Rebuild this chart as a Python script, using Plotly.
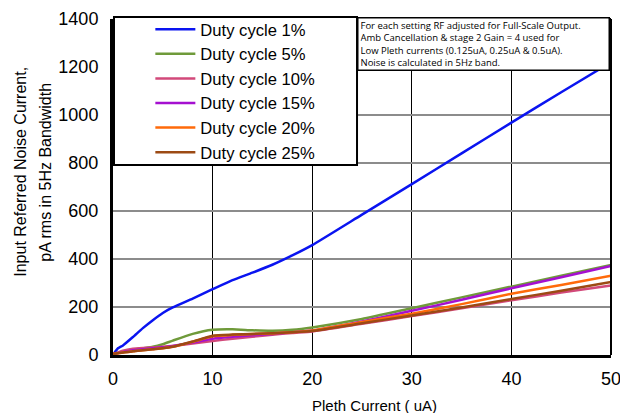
"""Input referred noise vs pleth current, per duty cycle."""

import plotly.graph_objects as go

pleth_ua = [0, 0.5, 1, 2, 3, 4, 5, 6, 8, 10, 12, 14, 16, 18, 20, 25, 30, 35, 40, 45, 50]

duty_1 = [0, 28, 40, 75, 112, 145, 175, 198, 235, 274, 312, 343, 376, 415, 458, 585, 712, 840, 968, 1095, 1220]
duty_5 = [5, 10, 14, 22, 28, 34, 45, 60, 88, 105, 107, 103, 101, 105, 115, 150, 195, 240, 285, 330, 375]
duty_10 = [5, 10, 18, 26, 29, 31, 34, 38, 48, 58, 68, 76, 84, 92, 98, 130, 162, 195, 228, 260, 290]
duty_15 = [5, 8, 12, 20, 24, 28, 32, 38, 52, 68, 76, 82, 88, 95, 102, 140, 184, 230, 278, 324, 371]
duty_20 = [5, 7, 10, 16, 20, 24, 28, 34, 55, 78, 84, 87, 90, 95, 102, 138, 172, 212, 255, 292, 330]
duty_25 = [5, 7, 10, 16, 20, 24, 28, 34, 56, 80, 85, 88, 91, 95, 100, 132, 165, 198, 233, 268, 304]

series = [
    ("Duty cycle 1%", duty_1, "#0a14f0"),
    ("Duty cycle 5%", duty_5, "#6f9a3a"),
    ("Duty cycle 10%", duty_10, "#d2497a"),
    ("Duty cycle 15%", duty_15, "#a510d0"),
    ("Duty cycle 20%", duty_20, "#ff6a0a"),
    ("Duty cycle 25%", duty_25, "#9c4a14"),
]

note = (
    "For each setting RF adjusted for Full-Scale Output.<br>"
    "Amb Cancellation &amp; stage 2 Gain = 4 used for<br>"
    "Low Pleth currents (0.125uA, 0.25uA &amp; 0.5uA).<br>"
    "Noise is calculated in 5Hz band."
)
y_title = ["Input Referred Noise Current,", "pA rms in 5Hz Bandwidth"]
x_title = "Pleth Current ( uA)"

fig = go.Figure()
for name, values, color in series:
    fig.add_trace(
        go.Scatter(
            x=pleth_ua,
            y=values,
            mode="lines",
            name=name,
            line={"color": color, "width": 2.5, "shape": "spline", "smoothing": 0.5},
        )
    )

fig.update_layout(
    width=620,
    height=413,
    margin={"l": 113, "r": 9, "t": 19, "b": 58, "autoexpand": False},
    paper_bgcolor="white",
    plot_bgcolor="white",
    font={"family": "Liberation Sans, Arial, sans-serif", "size": 18, "color": "black"},
    legend={
        "x": 0.075,
        "y": 1.021,
        "xanchor": "left",
        "yanchor": "top",
        "borderwidth": 0,
        "bgcolor": "rgba(0,0,0,0)",
        "font": {"size": 16.6},
        "itemwidth": 40,
        "tracegroupgap": 0,
    },
    showlegend=True,
)

fig.update_xaxes(
    range=[0, 50],
    dtick=10,
    showgrid=True,
    gridcolor="black",
    gridwidth=1,
    showline=True,
    linecolor="black",
    linewidth=3,
    ticks="",
    ticklabelstandoff=5,
    ticklabeloverflow="allow",
    zeroline=False,
    automargin=False,
)
fig.update_yaxes(
    range=[0, 1400],
    dtick=200,
    showgrid=True,
    gridcolor="#8c8c8c",
    gridwidth=1.5,
    showline=True,
    linecolor="black",
    linewidth=3,
    ticks="",
    ticklabelstandoff=8,
    ticklabeloverflow="allow",
    zeroline=False,
    automargin=False,
)

# right and top frame edges
fig.add_shape(type="line", xref="paper", yref="paper", x0=1, x1=1, y0=0, y1=1,
              line={"color": "black", "width": 2})
fig.add_shape(type="line", xref="paper", yref="paper", x0=0, x1=1, y0=1, y1=1,
              line={"color": "black", "width": 2})
# legend frame
fig.add_shape(type="rect", xref="paper", yref="paper", x0=0.002, x1=0.49, y0=0.5655, y1=1.006,
              line={"color": "black", "width": 2}, fillcolor="white", layer="above")

# axis titles
for i, line in enumerate(y_title):
    fig.add_annotation(
        text=line, xref="paper", yref="paper", x=-0.185 + i * 0.05, y=0.545,
        xanchor="center", yanchor="middle", textangle=-90, showarrow=False,
        font={"size": 16},
    )
fig.add_annotation(
    text=x_title, xref="paper", yref="paper", x=0.526, y=-0.149,
    xanchor="center", yanchor="middle", showarrow=False, font={"size": 15},
)

fig.add_annotation(
    text=note,
    xref="paper",
    yref="paper",
    x=0.49,
    y=1.006,
    xanchor="left",
    yanchor="top",
    align="left",
    valign="middle",
    width=246,
    height=47,
    showarrow=False,
    bgcolor="white",
    bordercolor="black",
    borderwidth=1.5,
    borderpad=2,
    font={"family": "Open Sans, sans-serif", "size": 9.5, "color": "black"},
)

fig.write_html(
    "out.html",
    config={"displayModeBar": False},
    post_script="document.body.style.margin='0px';",
)
